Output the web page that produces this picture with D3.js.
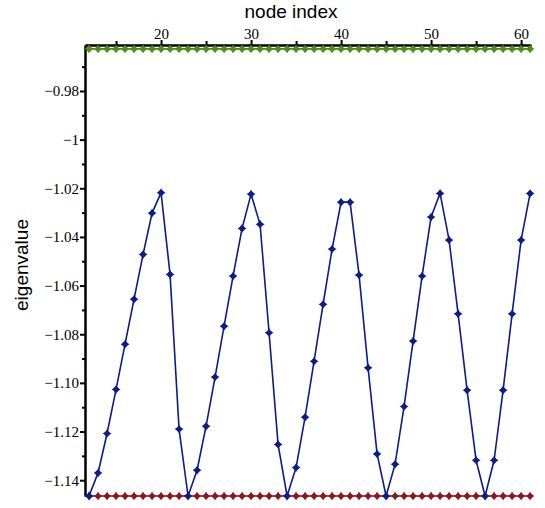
<!DOCTYPE html>
<html>
<head>
<meta charset="utf-8">
<script src="https://cdn.jsdelivr.net/npm/d3@7"></script>
<style>
  body { margin: 0; background: #fff; }
  svg { display: block; }
  .axis text { font-family: "Liberation Serif", "Times New Roman", serif; font-size: 15px; }
</style>
</head>
<body>
<div id="chart"></div>
<script>
// node indices 12..61
const nodeIndex = [12,13,14,15,16,17,18,19,20,21,22,23,24,25,26,27,28,29,30,31,
  32,33,34,35,36,37,38,39,40,41,42,43,44,45,46,47,48,49,50,51,
  52,53,54,55,56,57,58,59,60,61];

const midEigen = [-1.1465,-1.1370,-1.1208,-1.1027,-1.0841,-1.0656,-1.0472,-1.0302,-1.0218,-1.0554,
  -1.1190,-1.1465,-1.1359,-1.1178,-1.0976,-1.0767,-1.0561,-1.0365,-1.0224,-1.0348,
  -1.0794,-1.1253,-1.1465,-1.1348,-1.1141,-1.0911,-1.0677,-1.0450,-1.0257,-1.0257,
  -1.0557,-1.0938,-1.1292,-1.1465,-1.1334,-1.1097,-1.0828,-1.0561,-1.0318,-1.0221,
  -1.0413,-1.0716,-1.1030,-1.1318,-1.1465,-1.1318,-1.1030,-1.0716,-1.0413,-1.0221];

const topEigen = nodeIndex.map(() => -0.9627);
const lowEigen = nodeIndex.map(() => -1.1465);

const xMajor = [20, 30, 40, 50, 60];
const xMinor = [15, 25, 35, 45, 55];
const yMajor = [-0.98, -1, -1.02, -1.04, -1.06, -1.08, -1.10, -1.12, -1.14];
const yLabels = ['\u22120.98', '\u22121', '\u22121.02', '\u22121.04', '\u22121.06',
  '\u22121.08', '\u22121.10', '\u22121.12', '\u22121.14'];
const yMinor = [-0.97, -0.99, -1.01, -1.03, -1.05, -1.07, -1.09, -1.11, -1.13];

const W = 545, H = 508;

let svg = d3.select('#chart').append('svg')
    .attr('width', W)
    .attr('height', H);

let defs = svg.append('defs');
defs.append('filter').attr('id', 'soft')
    .attr('x', '-50%').attr('y', '-50%').attr('width', '200%').attr('height', '200%')
    .append('feGaussianBlur').attr('stdDeviation', 0.6);

let x = d3.scaleLinear().domain([11.55, 61.1]).range([85, 531]);
let y = d3.scaleLinear().domain([-1.1465, -0.9611]).range([496, 45]);

// axes
let xAxis = d3.axisTop(x).tickValues(xMajor).tickFormat(d3.format('d'))
    .tickSize(5).tickSizeOuter(0).tickPadding(1);
let xAxisMinor = d3.axisTop(x).tickValues(xMinor).tickFormat('')
    .tickSize(4).tickSizeOuter(0);

let yAxis = d3.axisLeft(y).tickValues(yMajor)
    .tickFormat((d, i) => yLabels[i])
    .tickSize(5).tickSizeOuter(0).tickPadding(1);
let yAxisMinor = d3.axisLeft(y).tickValues(yMinor).tickFormat('')
    .tickSize(3).tickSizeOuter(0);

function styleAxis(g) {
    g.attr('class', 'axis')
        .attr('font-family', null)
        .attr('font-size', null);
    g.select('.domain').attr('stroke', '#000').attr('stroke-width', 2);
    g.selectAll('.tick line').attr('stroke', '#000').attr('stroke-width', 2);
    g.selectAll('.tick text').attr('fill', '#000');
}

svg.append('g').attr('transform', 'translate(0,45)').call(xAxisMinor).call(styleAxis);
svg.append('g').attr('transform', 'translate(0,45)').call(xAxis).call(styleAxis);
svg.append('g').attr('transform', 'translate(85,0)').call(yAxisMinor).call(styleAxis);
svg.append('g').attr('transform', 'translate(85,0)').call(yAxis).call(styleAxis);

// titles
svg.append('text')
    .attr('x', 291).attr('y', 18)
    .attr('text-anchor', 'middle')
    .style('font-family', '"Liberation Sans", Arial, sans-serif')
    .style('font-size', '19px')
    .text('node index');

svg.append('text')
    .attr('transform', 'translate(28,265) rotate(-90)')
    .attr('text-anchor', 'middle')
    .style('font-family', '"Liberation Sans", Arial, sans-serif')
    .style('font-size', '19px')
    .text('eigenvalue');

// marker shape: four-armed star
const marker = 'M0,-4.5L1.6,-1.6L4.5,0L1.6,1.6L0,4.5L-1.6,1.6L-4.5,0L-1.6,-1.6Z';

function drawSeries(values, color) {
    let pts = nodeIndex.map((n, i) => [n, values[i]]);
    let g = svg.append('g');
    let line = d3.line()
        .x(d => x(d[0]))
        .y(d => y(d[1]));
    g.append('path')
        .datum(pts)
        .attr('d', line)
        .attr('fill', 'none')
        .attr('stroke', color)
        .attr('stroke-width', 1.6);
    g.selectAll('.m').data(pts).enter().append('path')
        .attr('class', 'm')
        .attr('transform', d => 'translate(' + x(d[0]) + ',' + y(d[1]) + ')')
        .attr('d', marker)
        .attr('fill', color)
        .attr('filter', 'url(#soft)');
    g.selectAll('.c').data(pts).enter().append('circle')
        .attr('class', 'c')
        .attr('cx', d => x(d[0]))
        .attr('cy', d => y(d[1]))
        .attr('r', 2.6)
        .attr('fill', color)
        .attr('filter', 'url(#soft)');
}

drawSeries(topEigen, '#4f8f14');
drawSeries(lowEigen, '#8c1420');
drawSeries(midEigen, '#0c1c88');
</script>
</body>
</html>
